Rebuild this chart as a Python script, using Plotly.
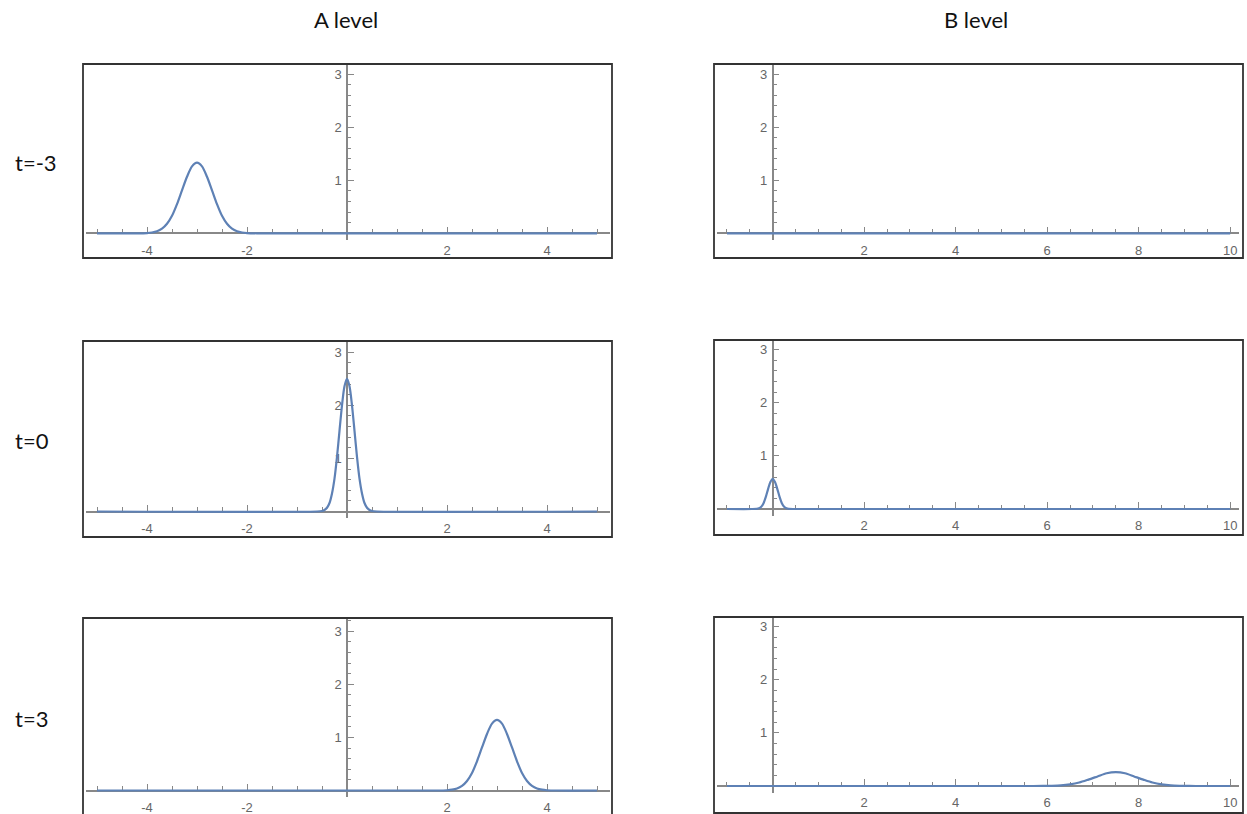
import plotly.graph_objects as go

W, H = 1247, 814

# ---------------- data ----------------
col_titles = ["A level", "B level"]
row_labels = ["t=-3", "t=0", "t=3"]

a_tm3_x = [-5.0, -4.2, -4.0, -3.9, -3.8, -3.7, -3.6, -3.5, -3.4, -3.3, -3.2, -3.1, -3.0,
           -2.9, -2.8, -2.7, -2.6, -2.5, -2.4, -2.3, -2.2, -2.1, -2.0, -1.8, 5.0]
a_tm3_y = [0.0, 0.0, 0.005, 0.015, 0.038, 0.088, 0.18, 0.33, 0.55, 0.81, 1.065, 1.26, 1.33,
           1.26, 1.065, 0.81, 0.55, 0.33, 0.18, 0.088, 0.038, 0.015, 0.005, 0.0, 0.0]

a_t0_x = [-5.0, -0.6, -0.5, -0.45, -0.4, -0.35, -0.3, -0.25, -0.2, -0.15, -0.1, -0.05, 0.0,
          0.05, 0.1, 0.15, 0.2, 0.25, 0.3, 0.35, 0.4, 0.45, 0.5, 0.6, 5.0]
a_t0_y = [0.0, 0.0, 0.009, 0.028, 0.07, 0.16, 0.34, 0.62, 1.03, 1.52, 2.0, 2.36, 2.5,
          2.36, 2.0, 1.52, 1.03, 0.62, 0.34, 0.16, 0.07, 0.028, 0.009, 0.0, 0.0]

a_t3_x = [-5.0, 1.8, 2.0, 2.1, 2.2, 2.3, 2.4, 2.5, 2.6, 2.7, 2.8, 2.9, 3.0,
          3.1, 3.2, 3.3, 3.4, 3.5, 3.6, 3.7, 3.8, 3.9, 4.0, 4.2, 5.0]
a_t3_y = [0.0, 0.0, 0.005, 0.015, 0.038, 0.088, 0.18, 0.33, 0.55, 0.81, 1.065, 1.26, 1.33,
          1.26, 1.065, 0.81, 0.55, 0.33, 0.18, 0.088, 0.038, 0.015, 0.005, 0.0, 0.0]

b_tm3_x = [-1.0, 10.0]
b_tm3_y = [0.0, 0.0]

b_t0_x = [-1.0, -0.45, -0.35, -0.3, -0.25, -0.2, -0.15, -0.1, -0.05, 0.0,
          0.05, 0.1, 0.15, 0.2, 0.25, 0.3, 0.35, 0.45, 10.0]
b_t0_y = [0.0, 0.0, 0.004, 0.014, 0.043, 0.11, 0.23, 0.38, 0.51, 0.57,
          0.51, 0.38, 0.23, 0.11, 0.043, 0.014, 0.004, 0.0, 0.0]

b_t3_x = [-1.0, 5.7, 5.9, 6.1, 6.3, 6.5, 6.7, 6.9, 7.1, 7.3, 7.5,
          7.7, 7.9, 8.1, 8.3, 8.5, 8.7, 8.9, 9.1, 9.3, 10.0]
b_t3_y = [0.0, 0.0, 0.001, 0.004, 0.011, 0.03, 0.065, 0.12, 0.18, 0.24, 0.26,
          0.24, 0.18, 0.12, 0.065, 0.03, 0.011, 0.004, 0.001, 0.0, 0.0]

a_xticks = [-4, -2, 2, 4]
b_xticks = [2, 4, 6, 8, 10]
yticks = [1, 2, 3]

# ---------------- layout constants (pixels) ----------------
panels = [
    dict(x=a_tm3_x, y=a_tm3_y, ticks=a_xticks, frame=(83, 64, 612, 258), org=(347.0, 233.3),
         sx=50.0, sy=53.1, xext=(86, 610), yext=(64, 240)),
    dict(x=b_tm3_x, y=b_tm3_y, ticks=b_xticks, frame=(714, 64, 1243, 258), org=(772.7, 233.3),
         sx=45.75, sy=53.1, xext=(717, 1239), yext=(64, 240)),
    dict(x=a_t0_x, y=a_t0_y, ticks=a_xticks, frame=(83, 341, 612, 537), org=(347.0, 511.5),
         sx=50.0, sy=53.1, xext=(86, 610), yext=(342, 518)),
    dict(x=b_t0_x, y=b_t0_y, ticks=b_xticks, frame=(714, 340, 1243, 535), org=(772.7, 509.0),
         sx=45.75, sy=53.1, xext=(717, 1239), yext=(341, 516)),
    dict(x=a_t3_x, y=a_t3_y, ticks=a_xticks, frame=(83, 618, 612, 830), org=(347.0, 790.5),
         sx=50.0, sy=53.1, xext=(86, 610), yext=(619, 797)),
    dict(x=b_t3_x, y=b_t3_y, ticks=b_xticks, frame=(714, 617, 1243, 813), org=(772.7, 786.0),
         sx=45.75, sy=53.1, xext=(717, 1239), yext=(618, 793)),
]

LINE_BLUE = "#5E81B5"
AXIS_GRAY = "#888888"
TICK_FONT = dict(family="Liberation Sans, Arial, sans-serif", size=13, color="#666666")
TEXT_FONT = dict(family="Lato, Open Sans, sans-serif", size=22, color="#111111")


def px(xp):
    return xp / W


def py(yp):
    return 1 - yp / H


fig = go.Figure()
shapes = []
for i, p in enumerate(panels, start=1):
    xa = "x" if i == 1 else f"x{i}"
    ya = "y" if i == 1 else f"y{i}"
    ox, oy = p["org"]
    x0p, x1p = p["xext"]
    y0p, y1p = p["yext"]
    xr = [(x0p - ox) / p["sx"], (x1p - ox) / p["sx"]]
    yr = [(oy - y1p) / p["sy"], (oy - y0p) / p["sy"]]

    fig.add_trace(go.Scatter(x=p["x"], y=p["y"], mode="lines", xaxis=xa, yaxis=ya,
                             line=dict(color=LINE_BLUE, width=2.2, shape="spline", smoothing=0.8),
                             hoverinfo="skip", showlegend=False))

    xkey = "xaxis" if i == 1 else f"xaxis{i}"
    ykey = "yaxis" if i == 1 else f"yaxis{i}"
    fig.update_layout(**{
        xkey: dict(domain=[px(x0p), px(x1p)], range=xr, anchor="free", position=py(oy),
                   showline=True, linecolor=AXIS_GRAY, linewidth=1.5, zeroline=False,
                   showgrid=False, ticks="inside", ticklen=6, tickwidth=1.3, tickcolor=AXIS_GRAY,
                   tickmode="array", tickvals=p["ticks"], ticktext=[str(t) for t in p["ticks"]],
                   tickfont=TICK_FONT, ticklabelstandoff=5, layer="below traces",
                   minor=dict(tickmode="linear", tick0=0, dtick=0.5, ticks="inside", ticklen=3.5,
                              tickwidth=1.2, tickcolor=AXIS_GRAY, showgrid=False),
                   fixedrange=True),
        ykey: dict(domain=[py(y1p), py(y0p)], range=yr, anchor="free", position=px(ox),
                   showline=True, linecolor=AXIS_GRAY, linewidth=1.5, zeroline=False,
                   showgrid=False, ticks="inside", ticklen=6, tickwidth=1.3, tickcolor=AXIS_GRAY,
                   tickmode="array", tickvals=yticks, ticktext=[str(t) for t in yticks],
                   tickfont=TICK_FONT, ticklabelstandoff=2, layer="below traces",
                   minor=dict(tickmode="linear", tick0=0, dtick=0.2, ticks="inside", ticklen=3.5,
                              tickwidth=1.2, tickcolor=AXIS_GRAY, showgrid=False),
                   fixedrange=True),
    })
    fx0, fy0, fx1, fy1 = p["frame"]
    shapes.append(dict(type="rect", xref="paper", yref="paper", x0=px(fx0), x1=px(fx1),
                       y0=py(fy1), y1=py(fy0), line=dict(color="#333333", width=1.8),
                       fillcolor="rgba(0,0,0,0)", layer="above"))

annotations = []
for t, cx in zip(col_titles, [346, 976]):
    annotations.append(dict(text=t, x=px(cx), y=py(20), xref="paper", yref="paper",
                            showarrow=False, xanchor="center", yanchor="middle", font=TEXT_FONT))
for t, cy in zip(row_labels, [163, 440, 718]):
    annotations.append(dict(text=t, x=px(13), y=py(cy), xref="paper", yref="paper",
                            showarrow=False, xanchor="left", yanchor="middle", font=TEXT_FONT))

fig.update_layout(width=W, height=H, margin=dict(l=0, r=0, t=0, b=0),
                  paper_bgcolor="white", plot_bgcolor="rgba(0,0,0,0)",
                  shapes=shapes, annotations=annotations, showlegend=False)

fig.write_html("out.html")
